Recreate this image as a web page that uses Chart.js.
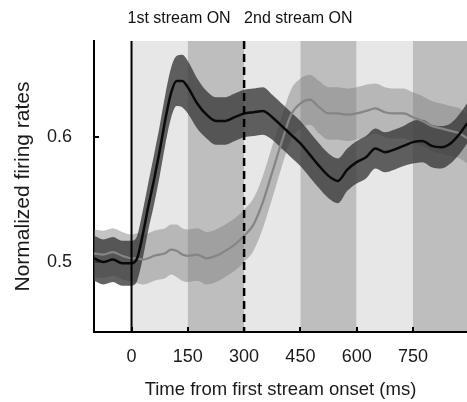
<!DOCTYPE html>
<html>
<head>
<meta charset="utf-8">
<script src="https://cdn.jsdelivr.net/npm/chart.js@4.4.1/dist/chart.umd.min.js"></script>
<style>
  html, body { margin: 0; padding: 0; background: #fff; }
  canvas { display: block; }
</style>
</head>
<body>
<canvas id="chart" width="467" height="402"></canvas>
<script>
// time axis (ms from first stream onset)
const times = [-100, -75, -50, -25, 0, 15, 30, 45, 60, 75, 90, 105, 120, 135, 150, 175, 200, 225, 250, 275,
  300, 325, 350, 375, 400, 425, 450, 475, 500, 525, 550, 575, 600, 625, 650, 675, 700, 725, 750, 775,
  800, 825, 850, 875, 894];

// first stream response (black line, dark band)
const firstMean = [0.503, 0.500, 0.502, 0.499, 0.499, 0.503, 0.522, 0.545, 0.566, 0.589, 0.614, 0.635, 0.645, 0.645, 0.640, 0.627, 0.618, 0.613, 0.613, 0.616,
  0.619, 0.620, 0.621, 0.616, 0.609, 0.602, 0.595, 0.586, 0.577, 0.569, 0.565, 0.574, 0.580, 0.584, 0.591, 0.588, 0.590, 0.593, 0.596, 0.597,
  0.593, 0.592, 0.595, 0.603, 0.611];
const firstErr = [0.018, 0.018, 0.018, 0.018, 0.018, 0.018, 0.019, 0.019, 0.02, 0.02, 0.02, 0.02, 0.02, 0.021, 0.021, 0.02, 0.019, 0.019, 0.019, 0.019,
  0.019, 0.019, 0.019, 0.018, 0.018, 0.018, 0.018, 0.018, 0.018, 0.018, 0.018, 0.017, 0.017, 0.017, 0.016, 0.016, 0.016, 0.016, 0.017, 0.017,
  0.017, 0.017, 0.016, 0.016, 0.016];

// second stream response (grey line, light band)
const secondMean = [0.507, 0.506, 0.508, 0.505, 0.503, 0.503, 0.502, 0.503, 0.505, 0.506, 0.507, 0.510, 0.509, 0.506, 0.505, 0.506, 0.503, 0.505, 0.509, 0.514,
  0.521, 0.530, 0.548, 0.572, 0.596, 0.618, 0.627, 0.630, 0.624, 0.619, 0.619, 0.618, 0.619, 0.621, 0.623, 0.620, 0.619, 0.619, 0.616, 0.613,
  0.609, 0.607, 0.605, 0.603, 0.599];
const secondErr = [0.019, 0.019, 0.019, 0.019, 0.019, 0.02, 0.02, 0.02, 0.02, 0.02, 0.02, 0.02, 0.021, 0.021, 0.021, 0.021, 0.021, 0.021, 0.021, 0.021,
  0.021, 0.021, 0.021, 0.021, 0.02, 0.02, 0.02, 0.02, 0.021, 0.021, 0.021, 0.021, 0.021, 0.021, 0.02, 0.02, 0.02, 0.02, 0.02, 0.02,
  0.02, 0.02, 0.02, 0.02, 0.02];

// stimulus periods shaded in the background
const bandEdges = [0, 150, 300, 450, 600, 750, 900];
const xTicks = [0, 150, 300, 450, 600, 750];
const yTicks = [0.5, 0.6];
const onsets = [{x: 0, label: '1st stream ON'}, {x: 300, label: '2nd stream ON'}];

const FONT = '"Liberation Sans", Arial, Helvetica, sans-serif';

function pts(ys) {
  return ys.map((y, i) => ({x: times[i], y: y}));
}
function upper(m, e) { return m.map((v, i) => v + e[i]); }
function lower(m, e) { return m.map((v, i) => v - e[i]); }

// backgrounds, inward ticks, onset lines and labels
const decor = {
  id: 'decor',
  beforeDraw(chart) {
    const {ctx, chartArea: a, scales: {x, y}} = chart;
    ctx.save();
    ctx.fillStyle = '#fff';
    ctx.fillRect(0, 0, chart.width, chart.height);
    for (let i = 0; i < bandEdges.length - 1; i++) {
      const x0 = Math.max(a.left, x.getPixelForValue(bandEdges[i]));
      const x1 = Math.min(a.right, x.getPixelForValue(bandEdges[i + 1]));
      ctx.fillStyle = i % 2 === 0 ? '#e7e7e7' : '#bebebe';
      ctx.fillRect(x0, a.top, x1 - x0, a.bottom - a.top);
    }
    ctx.strokeStyle = '#000';
    ctx.lineWidth = 2;
    ctx.beginPath();
    xTicks.forEach(v => {
      const px = Math.round(x.getPixelForValue(v));
      ctx.moveTo(px, a.bottom);
      ctx.lineTo(px, a.bottom - 5);
    });
    yTicks.forEach(v => {
      const py = Math.round(y.getPixelForValue(v));
      ctx.moveTo(a.left, py);
      ctx.lineTo(a.left + 5, py);
    });
    ctx.stroke();
    ctx.restore();
  },
  afterDatasetsDraw(chart) {
    const {ctx, chartArea: a, scales: {x}} = chart;
    ctx.save();
    ctx.strokeStyle = '#000';
    // first onset: solid
    let px = x.getPixelForValue(onsets[0].x);
    ctx.lineWidth = 2;
    ctx.beginPath();
    ctx.moveTo(px, a.top);
    ctx.lineTo(px, a.bottom);
    ctx.stroke();
    // second onset: dashed
    px = x.getPixelForValue(onsets[1].x);
    ctx.lineWidth = 2.5;
    ctx.setLineDash([8, 5]);
    ctx.beginPath();
    ctx.moveTo(px, a.top);
    ctx.lineTo(px, a.bottom);
    ctx.stroke();
    ctx.restore();
  },
  afterDraw(chart) {
    const {ctx, scales: {x}} = chart;
    ctx.save();
    ctx.fillStyle = '#111';
    ctx.font = '16px ' + FONT;
    ctx.textBaseline = 'middle';
    ctx.textAlign = 'left';
    ctx.fillText(onsets[0].label, x.getPixelForValue(onsets[0].x) - 4, 19);
    ctx.fillText(onsets[1].label, x.getPixelForValue(onsets[1].x), 19);
    ctx.restore();
  }
};

const noPts = {pointRadius: 0, pointHoverRadius: 0, cubicInterpolationMode: 'monotone'};

const data = {
  datasets: [
    Object.assign({label: 'first', data: pts(firstMean), borderColor: '#0a0a0a', borderWidth: 2.5, fill: false, order: 0}, noPts),
    Object.assign({label: 'second', data: pts(secondMean), borderColor: '#858585', borderWidth: 2.2, fill: false, order: 1}, noPts),
    Object.assign({label: 'firstHi', data: pts(upper(firstMean, firstErr)), borderWidth: 0, borderColor: 'rgba(0,0,0,0)', fill: false, order: 2}, noPts),
    Object.assign({label: 'firstLo', data: pts(lower(firstMean, firstErr)), borderWidth: 0, borderColor: 'rgba(0,0,0,0)', fill: '-1', backgroundColor: 'rgba(55,55,55,0.78)', order: 2}, noPts),
    Object.assign({label: 'secondHi', data: pts(upper(secondMean, secondErr)), borderWidth: 0, borderColor: 'rgba(0,0,0,0)', fill: false, order: 3}, noPts),
    Object.assign({label: 'secondLo', data: pts(lower(secondMean, secondErr)), borderWidth: 0, borderColor: 'rgba(0,0,0,0)', fill: '-1', backgroundColor: 'rgba(125,125,125,0.45)', order: 3}, noPts)
  ]
};

const config = {
  type: 'line',
  data,
  plugins: [decor],
  options: {
    responsive: false,
    animation: false,
    devicePixelRatio: 1,
    layout: {padding: {top: 41, right: 0, bottom: 0, left: 0}},
    plugins: {legend: {display: false}, tooltip: {enabled: false}},
    scales: {
      x: {
        type: 'linear',
        min: -100,
        max: 894,
        afterBuildTicks: s => { s.ticks = xTicks.map(v => ({value: v})); },
        afterFit: s => { s.height = 70; },
        grid: {display: false, drawTicks: false},
        border: {display: true, color: '#000', width: 2},
        ticks: {padding: 14, color: '#1a1a1a', font: {family: FONT, size: 18}, maxRotation: 0, autoSkip: false},
        title: {display: true, text: 'Time from first stream onset (ms)', color: '#1a1a1a',
          font: {family: FONT, size: 18.5}, padding: {top: 0, bottom: 1}}
      },
      y: {
        type: 'linear',
        min: 0.444,
        max: 0.677,
        afterBuildTicks: s => { s.ticks = yTicks.map(v => ({value: v})); },
        afterFit: s => { s.width = 94; },
        grid: {display: false, drawTicks: false},
        border: {display: true, color: '#000', width: 2},
        ticks: {padding: 22, color: '#1a1a1a', font: {family: FONT, size: 18}, callback: v => v.toFixed(1)},
        title: {display: true, text: 'Normalized firing rates', color: '#1a1a1a',
          font: {family: FONT, size: 21}, padding: {top: 11, bottom: 0}}
      }
    }
  }
};

const myChart = new Chart(document.getElementById('chart'), config);
</script>
</body>
</html>
